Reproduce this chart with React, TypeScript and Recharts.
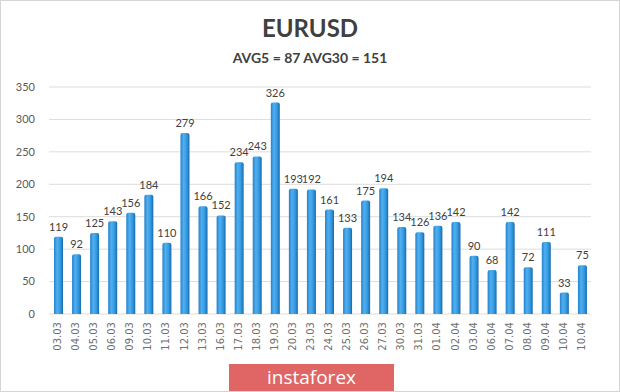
import React from "react";
import { BarChart, Bar, XAxis, YAxis, CartesianGrid, LabelList } from "recharts";

const dates = [
  "03.03", "04.03", "05.03", "06.03", "09.03", "10.03", "11.03", "12.03", "13.03", "16.03",
  "17.03", "18.03", "19.03", "20.03", "23.03", "24.03", "25.03", "26.03", "27.03", "30.03",
  "31.03", "01.04", "02.04", "03.04", "06.04", "07.04", "08.04", "09.04", "10.04", "10.04",
];
const ranges = [
  119, 92, 125, 143, 156, 184, 110, 279, 166, 152,
  234, 243, 326, 193, 192, 161, 133, 175, 194, 134,
  126, 136, 142, 90, 68, 142, 72, 111, 33, 75,
];
const yTicks = [0, 50, 100, 150, 200, 250, 300, 350];

const data = dates.map((d, i) => ({ key: i, date: d, value: ranges[i] }));

const font = "Lato, 'Open Sans', sans-serif";

function DateTick(props: any) {
  const { x, y, payload } = props;
  const label = dates[payload.value];
  return (
    <text
      x={x + 3}
      y={y}
      transform={`rotate(-90, ${x + 3}, ${y})`}
      textAnchor="end"
      fill="#707070"
      fontSize={10}
      fontFamily="'DejaVu Sans', sans-serif"
    >
      {label}
    </text>
  );
}

export default function App() {
  return (
    <div
      style={{
        position: "absolute",
        left: 0,
        top: 0,
        width: 620,
        height: 392,
        boxSizing: "border-box",
        border: "1px solid #d4d4d4",
        background: "#fff",
        fontFamily: font,
      }}
    >
      <div
        style={{
          position: "absolute",
          top: 12,
          width: "100%",
          textAlign: "center",
          fontSize: 24,
          fontWeight: 700,
          color: "#404040",
        }}
      >
        EURUSD
      </div>
      <div
        style={{
          position: "absolute",
          top: 48,
          width: "100%",
          textAlign: "center",
          fontSize: 14,
          fontWeight: 700,
          color: "#404040",
        }}
      >
        AVG5 = 87 AVG30 = 151
      </div>
      <div style={{ position: "absolute", left: -1, top: -1 }}>
        <BarChart
          width={620}
          height={392}
          data={data}
          margin={{ top: 87, right: 29, left: 9, bottom: 38 }}
        >
          <defs>
            <linearGradient id="barFill" x1="0" y1="0" x2="1" y2="0">
              <stop offset="0%" stopColor="#2282cc" />
              <stop offset="35%" stopColor="#52aff0" />
              <stop offset="70%" stopColor="#3299e0" />
              <stop offset="100%" stopColor="#1a6aa8" />
            </linearGradient>
          </defs>
          <CartesianGrid vertical={false} stroke="#dcdcdc" />
          <XAxis
            dataKey="key"
            type="category"
            height={40}
            interval={0}
            tickLine={false}
            axisLine={false}
            tickSize={0}
            tickMargin={8}
            tick={<DateTick />}
          />
          <YAxis
            width={40}
            domain={[0, 350]}
            ticks={yTicks}
            tickLine={false}
            axisLine={false}
            tickSize={0}
            tickMargin={14}
            tick={{ fill: "#595959", fontSize: 11, fontFamily: font }}
          />
          <Bar dataKey="value" fill="url(#barFill)" barSize={9} radius={[2, 2, 0, 0]} isAnimationActive={false}>
            <LabelList
              dataKey="value"
              position="top"
              offset={6}
              fill="#404040"
              fontSize={11}
              fontFamily={font}
            />
          </Bar>
        </BarChart>
      </div>
      <div
        style={{
          position: "absolute",
          left: 228,
          top: 363,
          width: 165,
          height: 27,
          background: "#e06666",
          color: "#fff",
          fontSize: 19,
          lineHeight: "26px",
          textAlign: "center",
          fontFamily: "'Open Sans', sans-serif",
        }}
      >
        instaforex
      </div>
    </div>
  );
}
